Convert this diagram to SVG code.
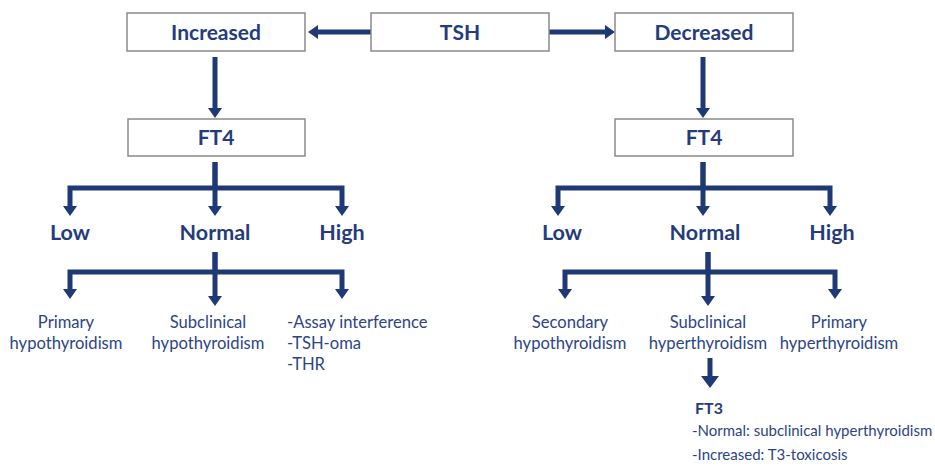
<svg xmlns="http://www.w3.org/2000/svg" width="935" height="468" viewBox="0 0 935 468">
<style>
.box{fill:#fff;stroke:#8a8a8a;stroke-width:1.5}
.h{font-family:Lato,"Liberation Sans",sans-serif;font-weight:bold;font-size:21px;fill:#253c7c;text-anchor:middle}
.lv{font-size:21.5px}
.t{font-family:Lato,"Liberation Sans",sans-serif;font-size:16.6px;fill:#2d4585;text-anchor:middle}
.tl{font-family:Lato,"Liberation Sans",sans-serif;font-size:16.6px;fill:#2d4585}
.s{font-family:Lato,"Liberation Sans",sans-serif;font-size:15px;fill:#2d4585}
.c{fill:none;stroke:#1f3876;stroke-width:5;stroke-linejoin:miter}
</style>
<defs>
<marker id="ah" markerUnits="userSpaceOnUse" markerWidth="16" markerHeight="16" refX="0" refY="8" orient="auto"><path d="M0,1 L10,8 L0,15 z" fill="#1f3876"/></marker>
<marker id="ah2" markerUnits="userSpaceOnUse" markerWidth="18" markerHeight="20" refX="0" refY="10" orient="auto"><path d="M0,1 L12,10 L0,19 z" fill="#1f3876"/></marker>
</defs>
<g id="connectors">
<path class="c" d="M371,32 H318" stroke-width="6" marker-end="url(#ah)"/>
<path class="c" d="M549,32 H605" stroke-width="6" marker-end="url(#ah)"/>
<path class="c" d="M215,57 V108" marker-end="url(#ah)"/>
<path class="c" d="M703,57 V108" marker-end="url(#ah)"/>
<path class="c" d="M215,162 V188 H70 V206" marker-end="url(#ah)"/>
<path class="c" d="M215,162 V206" marker-end="url(#ah)"/>
<path class="c" d="M215,188 H342 V206" marker-end="url(#ah)"/>
<path class="c" d="M703,162 V188 H558 V206" marker-end="url(#ah)"/>
<path class="c" d="M703,162 V206" marker-end="url(#ah)"/>
<path class="c" d="M703,188 H830 V206" marker-end="url(#ah)"/>
<path class="c" d="M215,252 V272 H70 V289" marker-end="url(#ah)"/>
<path class="c" d="M215,252 V296" marker-end="url(#ah)"/>
<path class="c" d="M215,272 H342 V289" marker-end="url(#ah)"/>
<path class="c" d="M708,252 V272 H565 V289" marker-end="url(#ah)"/>
<path class="c" d="M708,252 V296" marker-end="url(#ah)"/>
<path class="c" d="M708,272 H835 V289" marker-end="url(#ah)"/>
<path class="c" d="M710,358 V376" stroke-width="8" marker-end="url(#ah2)"/>
</g>
<g id="tsh"><rect class="box" x="371" y="13" width="178" height="38"/><text class="h" x="460" y="40">TSH</text></g>
<g id="increased"><rect class="box" x="127" y="13" width="178" height="38"/><text class="h" x="216" y="40">Increased</text></g>
<g id="decreased"><rect class="box" x="615" y="13" width="178" height="38"/><text class="h" x="704" y="40">Decreased</text></g>
<g id="ft4-left"><rect class="box" x="128" y="119" width="177" height="37"/><text class="h" x="216" y="145">FT4</text></g>
<g id="ft4-right"><rect class="box" x="615" y="119" width="178" height="37"/><text class="h" x="704" y="145">FT4</text></g>
<g id="low-l"><text class="h lv" x="70" y="240">Low</text></g>
<g id="normal-l"><text class="h lv" x="215" y="240">Normal</text></g>
<g id="high-l"><text class="h lv" x="342" y="240">High</text></g>
<g id="low-r"><text class="h lv" x="562" y="240">Low</text></g>
<g id="normal-r"><text class="h lv" x="705" y="240">Normal</text></g>
<g id="high-r"><text class="h lv" x="832" y="240">High</text></g>
<g id="primary-hypo"><text class="t" x="66" y="328">Primary</text><text class="t" x="66" y="349">hypothyroidism</text></g>
<g id="subclinical-hypo"><text class="t" x="208" y="328">Subclinical</text><text class="t" x="208" y="349">hypothyroidism</text></g>
<g id="high-causes"><text class="tl" x="287" y="328">-Assay interference</text><text class="tl" x="287" y="349">-TSH-oma</text><text class="tl" x="287" y="370">-THR</text></g>
<g id="secondary-hypo"><text class="t" x="570" y="328">Secondary</text><text class="t" x="570" y="349">hypothyroidism</text></g>
<g id="subclinical-hyper"><text class="t" x="708" y="328">Subclinical</text><text class="t" x="708" y="349">hyperthyroidism</text></g>
<g id="primary-hyper"><text class="t" x="839" y="328">Primary</text><text class="t" x="839" y="349">hyperthyroidism</text></g>
<g id="ft3"><text class="h" x="695" y="414" style="text-anchor:start;font-size:16px">FT3</text><text class="s" x="692" y="436">-Normal: subclinical hyperthyroidism</text><text class="s" x="692" y="460">-Increased: T3-toxicosis</text></g>
</svg>
